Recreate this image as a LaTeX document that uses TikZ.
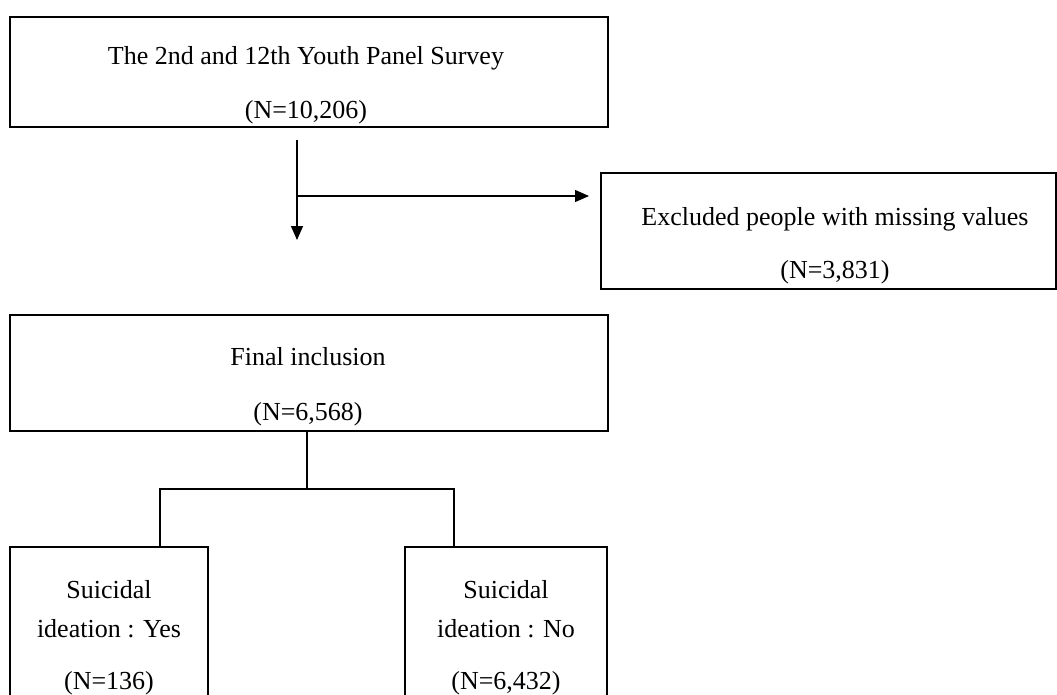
\documentclass[tikz,border=0pt]{standalone}
\usepackage{fontspec}
\setmainfont{Liberation Serif}
\usetikzlibrary{arrows.meta}
\begin{document}
\begin{tikzpicture}[x=1pt,y=-1pt,
  box/.style={draw=black,line width=1.3pt},
  txt/.style={font=\fontsize{26}{30}\selectfont,align=center,inner sep=0pt},
  conn/.style={line width=1.3pt},
  arr/.style={line width=1.3pt,-{Triangle[length=14pt,width=12pt]}}]
\useasboundingbox (0,0) rectangle (1057,694);
\clip (0,0) rectangle (1057,694);
% boxes
\draw[box] (10,17) rectangle (608,127);
\node[txt] (t1) at (306,58) {The 2nd and 12th Youth Panel Survey};
\node[txt] (t2) at (306,112) {(N=10,206)};
\draw[box] (601,173) rectangle (1056,289);
\node[txt] (e1) at (835,219) {Excluded people with missing values};
\node[txt] (e2) at (835,272) {(N=3,831)};
\draw[box] (10,315) rectangle (608,431);
\node[txt] (f1) at (308,357) {Final inclusion};
\node[txt] (f2) at (308,414) {(N=6,568)};
\draw[box] (10,547) rectangle (208,720);
\node[txt] (y1) at (109,590) {Suicidal};
\node[txt] (y2) at (109,629) {ideation : Yes};
\node[txt] (y3) at (109,683) {(N=136)};
\draw[box] (405,547) rectangle (607,720);
\node[txt] (n1) at (506,590) {Suicidal};
\node[txt] (n2) at (506,629) {ideation : No};
\node[txt] (n3) at (506,683) {(N=6,432)};
% connectors
\coordinate (a0) at (297,140);
\coordinate (a1) at (297,240);
\coordinate (h0) at (297,196);
\coordinate (h1) at (589,196);
\draw[arr] (a0) -- (a1);
\draw[arr] (h0) -- (h1);
\coordinate (fb) at (307,431);
\coordinate (fj) at (307,489);
\coordinate (yl) at (160,547);
\coordinate (nl) at (454,547);
\draw[conn] (fb) -- (fj);
\draw[conn] (yl) |- (fj) -| (nl);
\end{tikzpicture}
\end{document}
